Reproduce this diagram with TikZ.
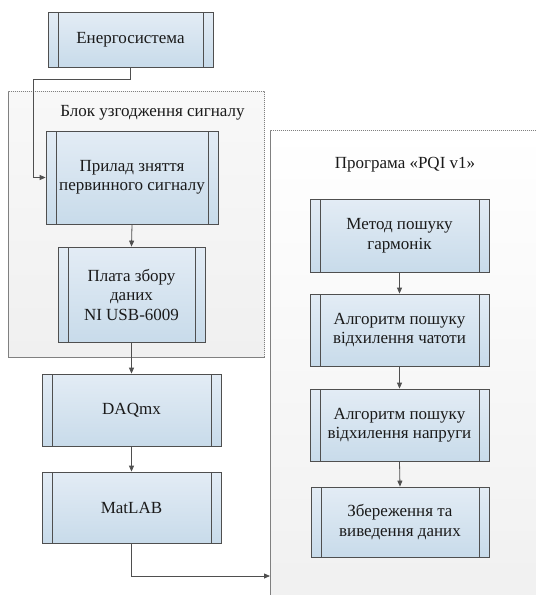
\documentclass[tikz,border=0pt]{standalone}
\usepackage{fontspec}
\setmainfont{Liberation Serif}
\newfontfamily\tnr{Liberation Serif}
\usetikzlibrary{arrows.meta,shadows}
\definecolor{boxtop}{HTML}{E3ECF5}
\definecolor{boxbot}{HTML}{C8DBEA}
\definecolor{edge}{HTML}{4F4F4F}
\definecolor{grpA}{HTML}{F8F8F8}
\definecolor{grpB}{HTML}{F0F0F0}
\definecolor{txt}{HTML}{1A1A1A}
\tikzset{
  proc/.style={draw=edge, line width=0.8pt, top color=boxtop, bottom color=boxbot,
    align=center, text=txt, font=\tnr\fontsize{17}{19.5}\selectfont, inner sep=0pt,
    drop shadow={shadow xshift=1.3pt, shadow yshift=-1.3pt, opacity=0.25, fill=black},
    path picture={
      \draw[edge, line width=0.8pt] ([xshift=10pt]path picture bounding box.north west) -- ([xshift=10pt]path picture bounding box.south west);
      \draw[edge, line width=0.8pt] ([xshift=-10pt]path picture bounding box.north east) -- ([xshift=-10pt]path picture bounding box.south east);}},
  conn/.style={draw=edge, line width=0.8pt, -{Triangle[length=6pt,width=5pt]}},
  grp/.style={draw=gray, dash pattern=on 1.2pt off 0.8pt, line width=0.7pt, inner sep=0pt, anchor=north west},
  ttl/.style={text=txt, font=\tnr\fontsize{17}{19.5}\selectfont, inner sep=0pt},
}
\begin{document}
\begin{tikzpicture}[x=1pt,y=-1pt]
\useasboundingbox (0,0) rectangle (536,595);
\begin{scope}
\clip (0,0) rectangle (536,595);
\node[grp, top color=white, bottom color=grpB, minimum width=290pt, minimum height=480pt] (G2) at (270,130) {};
\end{scope}
\node[grp, top color=grpA, bottom color=grpB, minimum width=256pt, minimum height=266pt] (G1) at (8,91) {};
\node[ttl] (T1) at (152.5,113) {Блок узгодження сигналу};
\node[ttl] (T2) at (405,165) {Програма «PQI v1»};

\node[proc, minimum width=165pt, minimum height=55pt] (E) at (130.5,39.5) {Енергосистема};
\node[proc, minimum width=172pt, minimum height=93pt] (P) at (132,177.5) {Прилад зняття\\первинного сигналу};
\node[proc, minimum width=147pt, minimum height=95pt] (Pl) at (131.5,294.5) {Плата збору\\даних\\NI USB-6009};
\node[proc, minimum width=179pt, minimum height=72pt] (D) at (131.5,410) {DAQmx};
\node[proc, minimum width=179pt, minimum height=71pt] (M) at (131.5,507.5) {MatLAB};

\node[proc, minimum width=179pt, minimum height=73pt] (R1) at (399.5,235.5) {Метод пошуку\\гармонік};
\node[proc, minimum width=179pt, minimum height=72pt] (R2) at (399.5,330) {Алгоритм пошуку\\відхилення чатоти};
\node[proc, minimum width=179pt, minimum height=72pt] (R3) at (399.5,425) {Алгоритм пошуку\\відхилення напруги};
\node[proc, minimum width=178pt, minimum height=70pt] (R4) at (400,522) {Збереження та\\виведення даних};

\coordinate (b1) at (33,79);
\draw[conn] (E.south) |- (b1) |- (P.west);
\draw[conn] (P.south) -- (Pl.north);
\draw[conn] (Pl.south) -- (D.north);
\draw[conn] (D.south) -- (M.north);
\coordinate (c1) at (270,576);
\draw[conn] (M.south) |- (c1);
\draw[conn] (R1.south) -- (R2.north);
\draw[conn] (R2.south) -- (R3.north);
\draw[conn] (R3.south) -- (R4.north);
\end{tikzpicture}
\end{document}
